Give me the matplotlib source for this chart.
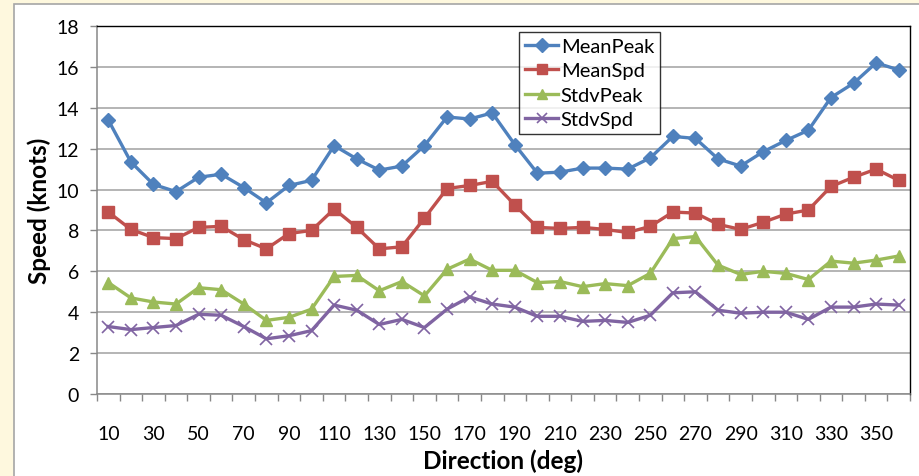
import numpy as np
import matplotlib.pyplot as plt
from matplotlib.patches import Rectangle

# --- dati: direzione del vento (deg) e velocità (knots) ---
direction = list(range(10, 361, 10))

mean_peak = [13.4, 11.35, 10.25, 9.9, 10.6, 10.75, 10.1, 9.35, 10.2, 10.45,
             12.15, 11.5, 10.95, 11.15, 12.15, 13.55, 13.45, 13.75, 12.2, 10.8,
             10.85, 11.05, 11.05, 11.0, 11.55, 12.6, 12.5, 11.5, 11.15, 11.85,
             12.4, 12.9, 14.5, 15.2, 16.2, 15.85]
mean_spd = [8.9, 8.05, 7.65, 7.6, 8.15, 8.2, 7.55, 7.1, 7.85, 8.0,
            9.05, 8.15, 7.1, 7.2, 8.6, 10.05, 10.2, 10.4, 9.25, 8.15,
            8.1, 8.15, 8.05, 7.9, 8.2, 8.9, 8.85, 8.3, 8.05, 8.4,
            8.8, 9.0, 10.15, 10.6, 11.0, 10.45]
stdv_peak = [5.45, 4.7, 4.5, 4.4, 5.2, 5.1, 4.4, 3.6, 3.75, 4.15,
             5.75, 5.8, 5.05, 5.5, 4.8, 6.1, 6.6, 6.05, 6.05, 5.45,
             5.5, 5.25, 5.4, 5.3, 5.9, 7.6, 7.7, 6.3, 5.85, 6.0,
             5.9, 5.6, 6.5, 6.4, 6.55, 6.75]
stdv_spd = [3.3, 3.15, 3.25, 3.35, 3.9, 3.85, 3.3, 2.7, 2.85, 3.1,
            4.35, 4.1, 3.4, 3.65, 3.25, 4.15, 4.75, 4.4, 4.25, 3.8,
            3.8, 3.55, 3.6, 3.5, 3.85, 4.95, 5.0, 4.1, 3.95, 4.0,
            4.0, 3.65, 4.25, 4.25, 4.4, 4.35]

series = [
    ("MeanPeak", mean_peak, "#4F81BD", "D", 7),
    ("MeanSpd", mean_spd, "#C0504D", "s", 8),
    ("StdvPeak", stdv_peak, "#9BBB59", "^", 8),
    ("StdvSpd", stdv_spd, "#8064A2", "x", 8),
]

plt.rcParams['font.family'] = ['Lato', 'DejaVu Sans']

W, H = 920, 477
fig = plt.figure(figsize=(W / 100, H / 100), dpi=100)
fig.patch.set_facecolor("#FEF8DE")

# riquadro bianco del grafico
fig.add_artist(Rectangle((14 / W, -0.01), 1.0, (H - 5) / H + 0.01,
                         transform=fig.transFigure, facecolor="white",
                         edgecolor="#A6A6A6", linewidth=1.2, zorder=0))

ax = fig.add_axes([97 / W, 82 / H, 813 / W, 368 / H])
ax.set_facecolor("white")

for name, vals, col, mk, ms in series:
    kw = dict(markeredgewidth=1.2) if mk == "x" else dict(markeredgecolor=col)
    ax.plot(direction, vals, color=col, lw=2.4, marker=mk, ms=ms,
            markerfacecolor=col, label=name, zorder=3, **kw)

ax.set_xlim(5, 365)
ax.set_ylim(0, 18)
ax.set_yticks(np.arange(0, 19, 2))
ax.yaxis.grid(True, color="#A0A0A0", lw=1.1)
ax.set_axisbelow(True)

ax.set_xticks(direction[::2])
ax.set_xticks(np.arange(5, 366, 10), minor=True)
ax.tick_params(axis="x", which="major", length=0, pad=22, labelsize=14)
ax.tick_params(axis="x", which="minor", length=5, width=1, color="#888888",
               direction="out")
ax.tick_params(axis="y", length=5, width=1, color="#888888", pad=8,
               labelsize=14)

for s in ("left", "bottom"):
    ax.spines[s].set_color("#888888")
    ax.spines[s].set_linewidth(1.1)
for s in ("top", "right"):
    ax.spines[s].set_color("black")
    ax.spines[s].set_linewidth(1.0)

ax.set_xlabel("Direction (deg)", fontsize=17.5, fontweight="bold", labelpad=5)
ax.set_ylabel("Speed (knots)", fontsize=17.5, fontweight="bold", labelpad=4)

leg = ax.legend(loc="upper left", bbox_to_anchor=(0.519, 0.984),
                borderaxespad=0, fontsize=14.5, frameon=True, fancybox=False,
                edgecolor="black", handlelength=1.65, handletextpad=0.12,
                labelspacing=0.36, borderpad=0.3, markerscale=0.95)
leg.get_frame().set_linewidth(1.0)

fig.savefig("out.png", dpi=100, facecolor=fig.get_facecolor())
